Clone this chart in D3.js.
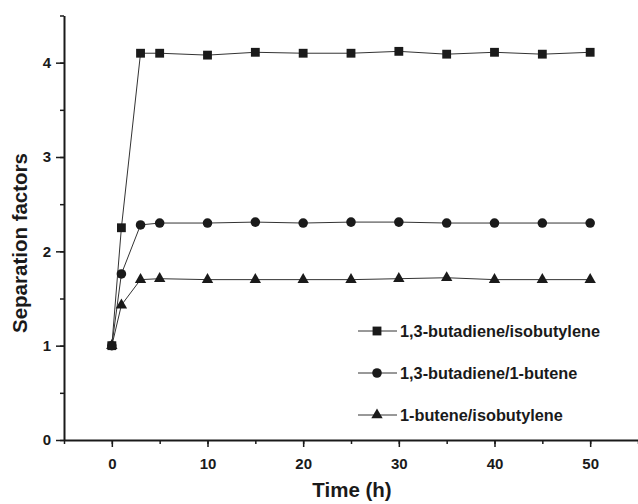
<!DOCTYPE html>
<html>
<head>
<meta charset="utf-8">
<script src="https://cdn.jsdelivr.net/npm/d3@7"></script>
<style>
body { margin: 0; background: #fff; }
text { font-family: "Liberation Sans", Arial, sans-serif; font-weight: bold; fill: #1a1a1a; }
</style>
</head>
<body>
<script>
const width = 638, height = 504;

const times = [0, 1, 3, 5, 10, 15, 20, 25, 30, 35, 40, 45, 50];
const butadieneIsobutylene = [1.0, 2.25, 4.10, 4.10, 4.08, 4.11, 4.10, 4.10, 4.12, 4.09, 4.11, 4.09, 4.11];
const butadieneButene = [1.0, 1.76, 2.28, 2.30, 2.30, 2.31, 2.30, 2.31, 2.31, 2.30, 2.30, 2.30, 2.30];
const buteneIsobutylene = [1.0, 1.43, 1.70, 1.71, 1.70, 1.70, 1.70, 1.70, 1.71, 1.72, 1.70, 1.70, 1.70];
const seriesNames = ["1,3-butadiene/isobutylene", "1,3-butadiene/1-butene", "1-butene/isobutylene"];
const xTicks = [0, 10, 20, 30, 40, 50];
const yTicks = [0, 1, 2, 3, 4];

const series = [
  { name: seriesNames[0], values: butadieneIsobutylene, symbol: d3.symbolSquare, size: 78 },
  { name: seriesNames[1], values: butadieneButene, symbol: d3.symbolCircle, size: 72 },
  { name: seriesNames[2], values: buteneIsobutylene, symbol: d3.symbolTriangle, size: 56 }
];

const x = d3.scaleLinear().domain([-5, 55]).range([64, 638]);
const y = d3.scaleLinear().domain([0, 4.5]).range([440, 15.5]);

const svg = d3.select("body").append("svg")
  .attr("width", width)
  .attr("height", height);

// minor ticks
svg.append("g")
  .attr("transform", "translate(0,440)")
  .call(d3.axisBottom(x).tickValues(d3.range(-5, 56, 5)).tickSize(4).tickFormat(""))
  .call(g => g.select(".domain").remove());
svg.append("g")
  .attr("transform", "translate(64,0)")
  .call(d3.axisLeft(y).tickValues(d3.range(0, 4.51, 0.5)).tickSize(4).tickFormat(""))
  .call(g => g.select(".domain").remove());

// major axes
const xAxis = svg.append("g")
  .attr("transform", "translate(0,440)")
  .call(d3.axisBottom(x).tickValues(xTicks).tickSize(7).tickSizeOuter(0).tickPadding(11));
const yAxis = svg.append("g")
  .attr("transform", "translate(64,0)")
  .call(d3.axisLeft(y).tickValues(yTicks).tickFormat(d3.format("d")).tickSize(8).tickSizeOuter(0).tickPadding(5));

svg.selectAll(".tick line").attr("stroke", "#1a1a1a").attr("stroke-width", 1.5);
svg.selectAll(".domain").attr("stroke", "#1a1a1a").attr("stroke-width", 2);
xAxis.selectAll("text").style("font-size", "15px");
yAxis.selectAll("text").style("font-size", "15px");

svg.append("text")
  .attr("x", 352).attr("y", 497)
  .attr("text-anchor", "middle")
  .style("font-size", "20.5px")
  .text("Time (h)");

svg.append("text")
  .attr("transform", "translate(26.5,243) rotate(-90)")
  .attr("text-anchor", "middle")
  .style("font-size", "20.5px")
  .text("Separation factors");

const line = d3.line()
  .x((d, i) => x(times[i]))
  .y(d => y(d));

series.forEach(s => {
  svg.append("path")
    .datum(s.values)
    .attr("d", line)
    .attr("fill", "none")
    .attr("stroke", "#333")
    .attr("stroke-width", 1);
  svg.append("g").selectAll("path")
    .data(s.values)
    .join("path")
      .attr("transform", (d, i) => `translate(${x(times[i])},${y(d)})`)
      .attr("d", d3.symbol().type(s.symbol).size(s.size))
      .attr("fill", "#1a1a1a");
});

// legend
const legendY = [331, 373, 415];
const legend = svg.append("g");
series.forEach((s, i) => {
  const g = legend.append("g").attr("transform", `translate(358,${legendY[i]})`);
  g.append("line").attr("x1", 0).attr("x2", 39).attr("stroke", "#333").attr("stroke-width", 1);
  g.append("path")
    .attr("transform", "translate(19,0)")
    .attr("d", d3.symbol().type(s.symbol).size(s.size))
    .attr("fill", "#1a1a1a");
  g.append("text")
    .attr("x", 42).attr("y", 0)
    .attr("dy", "0.35em")
    .style("font-size", "16.3px")
    .text(s.name);
});
</script>
</body>
</html>
